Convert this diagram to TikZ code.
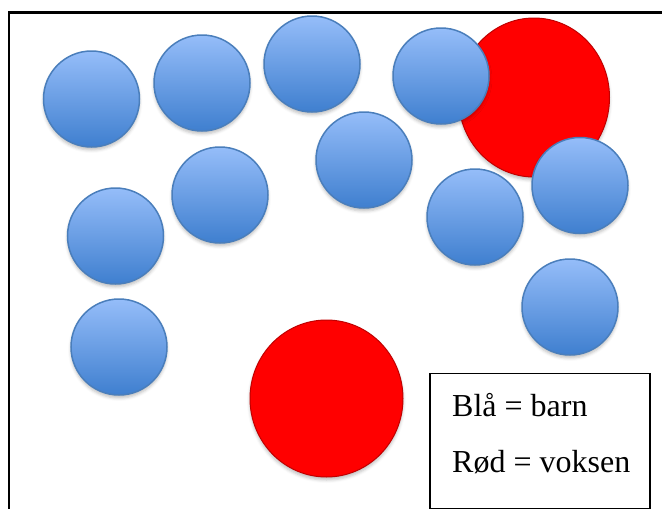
\documentclass[tikz,border=0pt]{standalone}
\usepackage{fontspec}
\setmainfont{Liberation Serif}
\usetikzlibrary{shapes.geometric,shadows.blur}
\definecolor{bluetop}{HTML}{95BDF9}
\definecolor{bluebot}{HTML}{3F7FCF}
\definecolor{blueedge}{HTML}{4A7EBB}
\definecolor{redfill}{HTML}{FF0000}
\definecolor{rededge}{HTML}{C00000}
\tikzset{
  kid/.style={circle, minimum size=96pt, inner sep=0pt, draw=blueedge, line width=1.5pt,
    top color=bluetop, bottom color=bluebot,
    blur shadow={shadow xshift=0pt, shadow yshift=-3pt, shadow blur radius=3pt, shadow opacity=25}},
  adult/.style={ellipse, inner sep=0pt, fill=redfill, draw=rededge, line width=1pt,
    blur shadow={shadow xshift=0pt, shadow yshift=-3pt, shadow blur radius=3pt, shadow opacity=25}},
  legtext/.style={anchor=base west, inner sep=0pt, font=\fontsize{32}{38}\selectfont}
}
\begin{document}
\begin{tikzpicture}[x=1pt,y=-1pt]
\useasboundingbox (0,0) rectangle (662,509);
% frame
\coordinate (ftl) at (9,12.5);
\coordinate (ftr) at (663,12.5);
\coordinate (fbl) at (9,510);
\draw[line width=2.5pt] (ftr) -- (ftl) -- (fbl);
% adults
\node[adult, minimum width=151pt, minimum height=159pt] (r1) at (534,97.5) {};
\node[adult, minimum width=153pt, minimum height=157pt] (r2) at (326.5,398.5) {};
% children
\node[kid] (b1) at (91.5,99) {};
\node[kid] (b2) at (202,83) {};
\node[kid] (b3) at (312,64) {};
\node[kid] (b4) at (441,76) {};
\node[kid] (b5) at (364,160) {};
\node[kid] (b6) at (220,195) {};
\node[kid] (b7) at (115.5,236) {};
\node[kid] (b8) at (119,347) {};
\node[kid] (b9) at (475,217) {};
\node[kid] (b10) at (580,185.5) {};
\node[kid] (b11) at (570,307) {};
% legend
\node[draw, line width=1.5pt, fill=white, minimum width=220pt, minimum height=135pt, anchor=north west, inner sep=0pt] (legend) at (429,372.5) {};
\node[legtext] (l1) at (452,416) {Blå = barn};
\node[legtext] (l2) at (452,472) {Rød = voksen};
\end{tikzpicture}
\end{document}
